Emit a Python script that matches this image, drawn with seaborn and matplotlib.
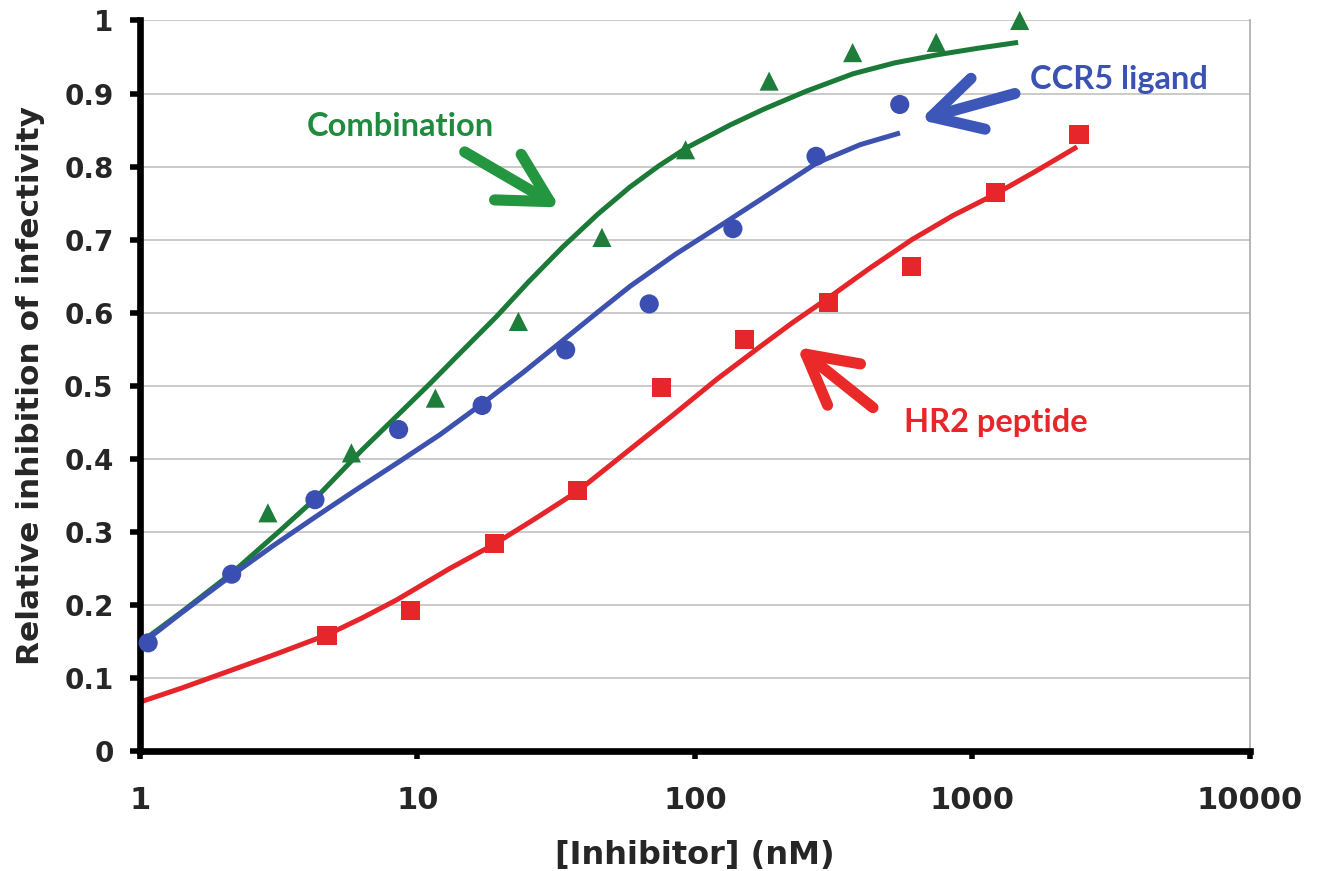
import numpy as np
import pandas as pd
import seaborn as sns
import matplotlib
matplotlib.use('Agg')
from matplotlib import pyplot as plt

OUT = 'out.png'

# measured points (concentration in nM, relative inhibition)
combo_x = [2.89, 5.78, 11.6, 23.1, 46.2, 92.5, 185, 370, 740, 1480]
combo_y = [0.326, 0.408, 0.483, 0.588, 0.703, 0.823, 0.917, 0.956, 0.970, 1.0]
ccr5_x = [1.07, 2.14, 4.27, 8.55, 17.1, 34.2, 68.4, 137, 273, 547]
ccr5_y = [0.148, 0.242, 0.344, 0.440, 0.473, 0.549, 0.612, 0.715, 0.814, 0.885]
hr2_x = [4.72, 9.45, 18.9, 37.8, 75.6, 151, 302, 605, 1210, 2420]
hr2_y = [0.158, 0.192, 0.284, 0.356, 0.497, 0.563, 0.614, 0.663, 0.764, 0.844]

# fitted curves
combo_fit_x = [1.0, 1.41, 2.15, 3.16, 4.27, 6.31, 11.1, 14.1, 19.3, 25.1, 33.4, 44.7,
               58.3, 74.1, 93.6, 134, 178, 251, 371, 525, 745, 1047, 1460]
combo_fit_y = [0.148, 0.190, 0.244, 0.300, 0.345, 0.412, 0.503, 0.543, 0.595, 0.642,
               0.690, 0.735, 0.772, 0.801, 0.826, 0.857, 0.879, 0.903, 0.927, 0.942,
               0.953, 0.962, 0.970]
ccr5_fit_x = [1.0, 1.41, 2.15, 3.02, 4.27, 6.03, 8.43, 12.05, 17.2, 24.0, 33.4, 44.7,
              58.3, 85.1, 128, 171, 224, 275, 394, 548]
ccr5_fit_y = [0.145, 0.189, 0.241, 0.281, 0.320, 0.358, 0.394, 0.433, 0.476, 0.518,
              0.562, 0.601, 0.636, 0.680, 0.723, 0.754, 0.783, 0.805, 0.830, 0.846]
hr2_fit_x = [1.0, 1.41, 2.15, 3.16, 4.72, 6.31, 8.43, 13.1, 18.7, 26.3, 37.6, 56.2,
             83.4, 120, 171, 224, 302, 427, 605, 851, 1205, 1698, 2382]
hr2_fit_y = [0.067, 0.086, 0.111, 0.134, 0.159, 0.182, 0.207, 0.250, 0.282, 0.317,
             0.355, 0.408, 0.460, 0.509, 0.553, 0.586, 0.620, 0.661, 0.700, 0.733,
             0.762, 0.794, 0.827]

names = ['Combination', 'CCR5 ligand', 'HR2 peptide']
x_ticks = [1, 10, 100, 1000, 10000]
x_ticklabels = ['1', '10', '100', '1000', '10000']
y_ticks = [0, 0.1, 0.2, 0.3, 0.4, 0.5, 0.6, 0.7, 0.8, 0.9, 1.0]
y_ticklabels = ['0', '0.1', '0.2', '0.3', '0.4', '0.5', '0.6', '0.7', '0.8', '0.9', '1']

line_pal = {'Combination': '#1b7a37', 'CCR5 ligand': '#3d51ae', 'HR2 peptide': '#e5252a'}
mark_pal = {'Combination': '#1e7d3a', 'CCR5 ligand': '#3b4fb3', 'HR2 peptide': '#e6262a'}
text_pal = {'Combination': '#208a3e', 'CCR5 ligand': '#3a52b2', 'HR2 peptide': '#e8262a'}
arrow_pal = {'Combination': '#24963f', 'CCR5 ligand': '#3d57b8', 'HR2 peptide': '#ea2a28'}
markers = {'Combination': '^', 'CCR5 ligand': 'o', 'HR2 peptide': 's'}

pts = pd.concat([
    pd.DataFrame({'conc': combo_x, 'inhib': combo_y, 'series': names[0]}),
    pd.DataFrame({'conc': ccr5_x, 'inhib': ccr5_y, 'series': names[1]}),
    pd.DataFrame({'conc': hr2_x, 'inhib': hr2_y, 'series': names[2]}),
], ignore_index=True)
fits = pd.concat([
    pd.DataFrame({'conc': combo_fit_x, 'inhib': combo_fit_y, 'series': names[0]}),
    pd.DataFrame({'conc': ccr5_fit_x, 'inhib': ccr5_fit_y, 'series': names[1]}),
    pd.DataFrame({'conc': hr2_fit_x, 'inhib': hr2_fit_y, 'series': names[2]}),
], ignore_index=True)

sns.set_style('white')
plt.rcParams['font.family'] = ['DejaVu Sans']

fig, ax = plt.subplots(figsize=(13.22, 8.71), dpi=100)
fig.subplots_adjust(left=0.1059, right=0.9455, bottom=0.1378, top=0.9765)
ax.set_xscale('log')

sns.lineplot(data=fits, x='conc', y='inhib', hue='series', palette=line_pal,
             estimator=None, sort=True, lw=3.6, legend=False, ax=ax, zorder=2)
sns.scatterplot(data=pts, x='conc', y='inhib', hue='series', style='series',
                palette=mark_pal, markers=markers, s=190, linewidth=0,
                legend=False, clip_on=False, ax=ax, zorder=3)
for ln in ax.get_lines():
    ln.set_solid_capstyle('butt')
    ln.set_solid_joinstyle('round')

ax.set_xlim(1, 10000)
ax.set_ylim(0, 1)
ax.set_xticks(x_ticks)
ax.set_xticklabels(x_ticklabels)
ax.xaxis.set_minor_locator(matplotlib.ticker.NullLocator())
ax.set_yticks(y_ticks)
ax.set_yticklabels(y_ticklabels)

ax.grid(axis='y', color='#c6c6c6', lw=1.3)
ax.grid(axis='x', visible=False)
ax.set_axisbelow(True)
for sp in ['left', 'bottom']:
    ax.spines[sp].set_color('black')
    ax.spines[sp].set_linewidth(4.8)
ax.spines['top'].set_visible(False)
ax.spines['right'].set_color('#b0b0b0')
ax.spines['right'].set_linewidth(1.3)

ax.tick_params(axis='y', direction='out', length=7, width=4, color='black',
               labelsize=20, pad=12, left=True)
ax.tick_params(axis='x', direction='out', length=6, width=4, color='black',
               labelsize=22, pad=19, bottom=True)
for lab in ax.get_xticklabels() + ax.get_yticklabels():
    lab.set_fontweight('bold')

ax.set_xlabel('[Inhibitor] (nM)', fontsize=23, fontweight='bold')
ax.set_ylabel('Relative inhibition of infectivity', fontsize=22.5, fontweight='bold')
ax.xaxis.set_label_coords(0.5, -0.122)
ax.yaxis.set_label_coords(-0.086, 0.5)

# callout labels and arrows
lbl_font = dict(fontsize=23.5, fontweight='bold', family=['Lato', 'DejaVu Sans'],
                ha='center', va='center')
ax.text(8.65, 0.855, 'Combination', color=text_pal['Combination'], **lbl_font)
ax.text(3373, 0.919, 'CCR5 ligand', color=text_pal['CCR5 ligand'], **lbl_font)
ax.text(1216, 0.449, 'HR2 peptide', color=text_pal['HR2 peptide'], **lbl_font)

arrows = [
    ('Combination', (14.8, 0.82), (32.6, 0.744)),
    ('CCR5 ligand', (1423, 0.90), (647, 0.864)),
    ('HR2 peptide', (438, 0.47), (233, 0.553)),
]
for name, tail, tip in arrows:
    ax.annotate('', xy=tip, xytext=tail,
                arrowprops=dict(arrowstyle='->,head_length=1.75,head_width=0.95',
                                lw=8, color=arrow_pal[name], mutation_scale=20,
                                shrinkA=0, shrinkB=0, capstyle='round',
                                joinstyle='round'))

fig.savefig(OUT, dpi=100)
plt.close()
